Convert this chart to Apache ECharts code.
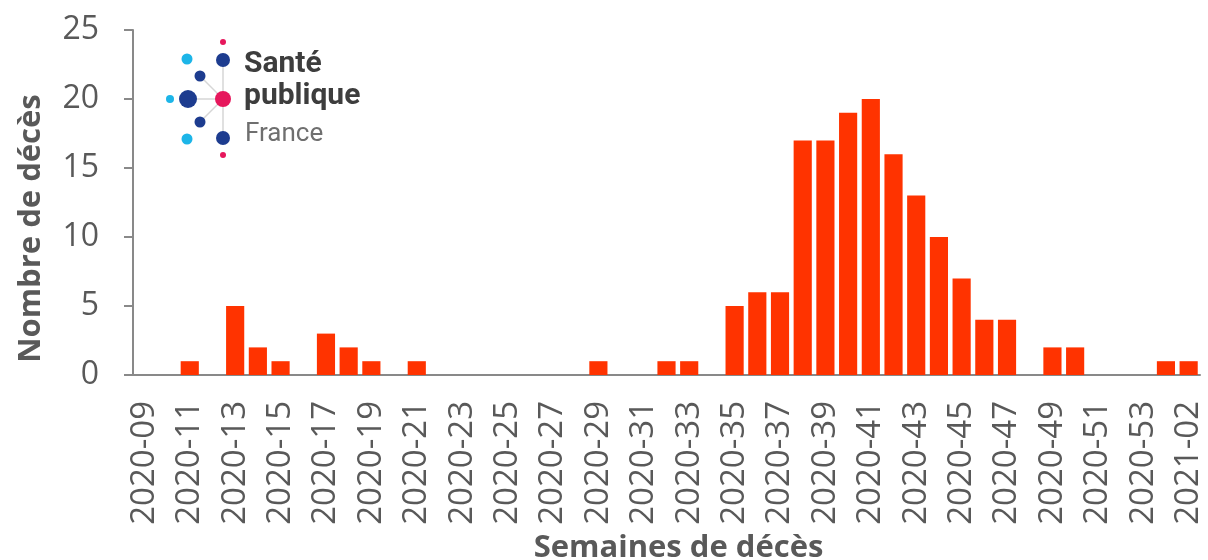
<!doctype html>
<html>
    <head>
        <meta charset="utf-8">
        <title>Décès par semaine</title>
        <style>
            html, body { margin: 0; padding: 0; background: #fff; }
            #main { width: 1208px; height: 560px; }
        </style>
    </head>
    <body>
        <div id="main"></div>
        <script src="https://cdn.jsdelivr.net/npm/echarts@6/dist/echarts.min.js"></script>
        <script>
            var weeks = [
                '2020-09', '2020-10', '2020-11', '2020-12', '2020-13', '2020-14', '2020-15', '2020-16',
                '2020-17', '2020-18', '2020-19', '2020-20', '2020-21', '2020-22', '2020-23', '2020-24',
                '2020-25', '2020-26', '2020-27', '2020-28', '2020-29', '2020-30', '2020-31', '2020-32',
                '2020-33', '2020-34', '2020-35', '2020-36', '2020-37', '2020-38', '2020-39', '2020-40',
                '2020-41', '2020-42', '2020-43', '2020-44', '2020-45', '2020-46', '2020-47', '2020-48',
                '2020-49', '2020-50', '2020-51', '2020-52', '2020-53', '2021-01', '2021-02'
            ];
            var deces = [
                0, 0, 1, 0, 5, 2, 1, 0,
                3, 2, 1, 0, 1, 0, 0, 0,
                0, 0, 0, 0, 1, 0, 0, 1,
                1, 0, 5, 6, 6, 17, 17, 19,
                20, 16, 13, 10, 7, 4, 4, 0,
                2, 2, 0, 0, 0, 1, 1
            ];
            var yTicks = { min: 0, max: 25, interval: 5 };

            var grey = '#595959';
            var axisGrey = '#898989';
            var dark = '#1d3c8f', light = '#1cb5e8', pink = '#e6175c';

            function dot(cx, cy, r, c) {
                return { type: 'circle', shape: { cx: cx, cy: cy, r: r }, style: { fill: c }, z: 10 };
            }
            function seg(x1, y1, x2, y2) {
                return { type: 'line', shape: { x1: x1, y1: y1, x2: x2, y2: y2 },
                    style: { stroke: '#d6d6d6', lineWidth: 1.5 }, z: 9 };
            }

            var chart = echarts.init(document.getElementById('main'));

            chart.setOption({
                animation: false,
                grid: { left: 133, right: 8, top: 30, bottom: 185, containLabel: false, outerBoundsMode: 'none' },
                xAxis: {
                    type: 'category',
                    data: weeks,
                    name: 'Semaines de décès',
                    nameLocation: 'middle',
                    nameGap: 156,
                    nameTextStyle: { color: grey, fontSize: 31, fontWeight: 'bold',
                        fontFamily: 'Open Sans', padding: [0, 0, 0, 24] },
                    axisLine: { lineStyle: { color: axisGrey, width: 2 } },
                    axisTick: {
                        length: 10,
                        lineStyle: { color: axisGrey, width: 2 },
                        interval: function (i) { return i % 10 === 0; }
                    },
                    axisLabel: {
                        interval: 1,
                        rotate: 90,
                        color: grey,
                        fontSize: 33,
                        fontFamily: 'Open Sans',
                        margin: 26
                    }
                },
                yAxis: {
                    type: 'value',
                    min: yTicks.min,
                    max: yTicks.max,
                    interval: yTicks.interval,
                    name: 'Nombre de décès',
                    nameLocation: 'middle',
                    nameGap: 86,
                    nameTextStyle: { color: grey, fontSize: 31, fontWeight: 'bold',
                        fontFamily: 'Open Sans', padding: [0, 52, 0, 0] },
                    axisLine: { show: true, lineStyle: { color: axisGrey, width: 2 } },
                    axisTick: { show: true, length: 9, lineStyle: { color: axisGrey, width: 2 } },
                    splitLine: { show: false },
                    axisLabel: { color: grey, fontSize: 32, fontFamily: 'Open Sans', margin: 34 }
                },
                series: [{
                    type: 'bar',
                    data: deces,
                    barCategoryGap: '20%',
                    itemStyle: { color: '#ff3300' }
                }],
                graphic: [
                    seg(223, 60, 223, 138),
                    seg(188, 99, 223, 99),
                    seg(200, 76, 223, 99),
                    seg(200, 122, 223, 99),
                    dot(223, 42, 3, pink),
                    dot(223, 60, 7, dark),
                    dot(187, 59, 5.5, light),
                    dot(200, 76, 5.5, dark),
                    dot(188, 99, 9, dark),
                    dot(170, 99, 4, light),
                    dot(223, 99, 8, pink),
                    dot(200, 122, 5.5, dark),
                    dot(187, 139, 5.5, light),
                    dot(223, 138, 7, dark),
                    dot(223, 155, 3, pink),
                    { type: 'text', x: 244, y: 49, z: 10,
                      style: { text: 'Santé', font: 'bold 30px Roboto', fill: '#3d3d3d' } },
                    { type: 'text', x: 244, y: 81, z: 10,
                      style: { text: 'publique', font: 'bold 30px Roboto', fill: '#3d3d3d' } },
                    { type: 'text', x: 245, y: 121, z: 10,
                      style: { text: 'France', font: '26px Roboto', fill: '#6f6f6f' } }
                ]
            });

            window.onresize = chart.resize;
        </script>
    </body>
</html>
